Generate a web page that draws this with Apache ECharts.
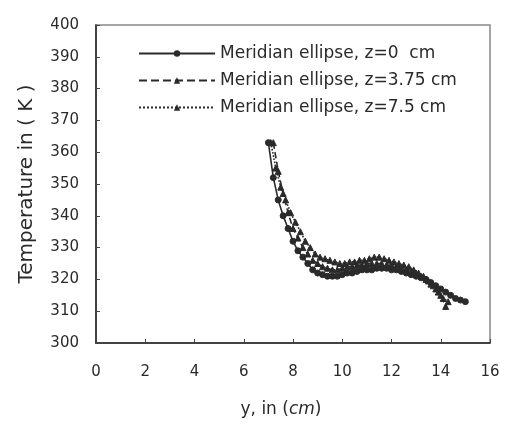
<!DOCTYPE html>
<html>
<head>
<meta charset="utf-8">
<script src="https://cdn.jsdelivr.net/npm/echarts@6/dist/echarts.min.js"></script>
<style>
  html, body { margin: 0; padding: 0; background: #fff; }
  #chart { width: 506px; height: 425px; }
</style>
</head>
<body>
<div id="chart"></div>
<script>
// 数据：y 位置 (cm) 与温度 (K)
const xZ0 = [7.0, 7.2, 7.4, 7.6, 7.8, 8.0, 8.2, 8.4, 8.6, 8.8, 9.0, 9.2, 9.4, 9.6, 9.8, 10.0, 10.2, 10.4, 10.6, 10.8, 11.0, 11.2, 11.4, 11.6, 11.8, 12.0, 12.2, 12.4, 12.6, 12.8, 13.0, 13.2, 13.4, 13.6, 13.8, 14.0, 14.2, 14.4, 14.6, 14.8, 15.0]
const tZ0 = [363, 352, 345, 340, 336, 332, 329, 327, 325, 323, 322, 321.5, 321, 321, 321, 321.5, 322, 322, 322.5, 323, 323, 323, 323.5, 323.5, 323.5, 323, 323, 322.5, 322, 321.5, 321, 320.5, 320, 319, 318, 317, 316, 315, 314, 313.5, 313]

const xZ375 = [7.2, 7.4, 7.6, 7.8, 8.0, 8.2, 8.4, 8.6, 8.8, 9.0, 9.2, 9.4, 9.6, 9.8, 10.0, 10.2, 10.4, 10.6, 10.8, 11.0, 11.2, 11.4, 11.6, 11.8, 12.0, 12.2, 12.4, 12.6, 12.8, 13.0, 13.2, 13.4, 13.6, 13.8, 14.0, 14.2]
const tZ375 = [363, 354, 347, 341, 336, 333, 330, 328, 326, 325, 324, 323.5, 323, 323, 323.5, 324, 324, 324.5, 324.5, 325, 325, 325, 325, 324.5, 324.5, 324, 323.5, 323, 322.5, 322, 321, 320, 318.5, 317, 315, 311.5]

const xZ75 = [7.1, 7.3, 7.5, 7.7, 7.9, 8.1, 8.3, 8.5, 8.7, 8.9, 9.1, 9.3, 9.5, 9.7, 9.9, 10.1, 10.3, 10.5, 10.7, 10.9, 11.1, 11.3, 11.5, 11.7, 11.9, 12.1, 12.3, 12.5, 12.7, 12.9, 13.1, 13.3, 13.5, 13.7, 13.9, 14.1, 14.3]
const tZ75 = [363, 355, 349, 345, 341, 338, 335, 332, 330, 328, 327, 326.5, 326, 325.5, 325, 325, 325.5, 325.5, 326, 326, 326.5, 327, 327, 326.5, 326, 325.5, 325, 324.5, 324, 323, 322, 321, 319.5, 318, 316, 314, 313]

const seriesNames = ['Meridian ellipse, z=0  cm', 'Meridian ellipse, z=3.75 cm', 'Meridian ellipse, z=7.5 cm']

const zip = (xs, ys) => xs.map((x, i) => [x, ys[i]])

const font = 'DejaVu Sans'
const ink = '#2a2a2a'

const chart = echarts.init(document.getElementById('chart'))

const makeSeries = (name, data, lineType, symbol) => ({
  name: name,
  type: 'line',
  data: data,
  symbol: symbol,
  symbolSize: 6,
  showSymbol: true,
  lineStyle: { color: ink, width: 1.6, type: lineType },
  itemStyle: { color: ink, borderColor: ink },
  emphasis: { disabled: true },
  z: 3
})

const option = {
  backgroundColor: '#fff',
  animation: false,
  textStyle: { fontFamily: font },
  grid: {
    left: 96,
    right: 16,
    top: 25,
    bottom: 82,
    show: true,
    borderColor: '#888',
    borderWidth: 1.5
  },
  legend: {
    top: 40,
    left: 133,
    orient: 'vertical',
    itemGap: 10,
    itemWidth: 76,
    itemHeight: 8,
    textStyle: { fontFamily: font, fontSize: 17, color: ink },
    data: seriesNames
  },
  xAxis: {
    type: 'value',
    min: 0,
    max: 16,
    interval: 2,
    name: '{n|y, in (}{i|cm}{n|)}',
    nameLocation: 'middle',
    nameGap: 58,
    nameTextStyle: {
      padding: [0, 24, 0, 0],
      rich: {
        n: { fontFamily: font, fontSize: 17, color: ink },
        i: { fontFamily: font, fontSize: 17, color: ink, fontStyle: 'italic' }
      }
    },
    axisLine: { lineStyle: { color: '#222', width: 1.5 } },
    axisTick: { inside: true, length: 4, lineStyle: { color: '#444' } },
    axisLabel: { fontFamily: font, fontSize: 15, color: ink, margin: 22 },
    splitLine: { show: false }
  },
  yAxis: {
    type: 'value',
    min: 300,
    max: 400,
    interval: 10,
    name: 'Temperature in ( K )',
    nameLocation: 'middle',
    nameGap: 59,
    nameTextStyle: { fontFamily: font, fontSize: 20, color: ink },
    axisLine: { show: true, lineStyle: { color: '#222', width: 1.5 } },
    axisTick: { inside: true, length: 4, lineStyle: { color: '#444' } },
    axisLabel: { fontFamily: font, fontSize: 15, color: ink, margin: 17 },
    splitLine: { show: false }
  },
  series: [
    makeSeries(seriesNames[0], zip(xZ0, tZ0), 'solid', 'circle'),
    makeSeries(seriesNames[1], zip(xZ375, tZ375), 'dashed', 'triangle'),
    makeSeries(seriesNames[2], zip(xZ75, tZ75), 'dotted', 'triangle')
  ]
}

chart.setOption(option)
</script>
</body>
</html>
